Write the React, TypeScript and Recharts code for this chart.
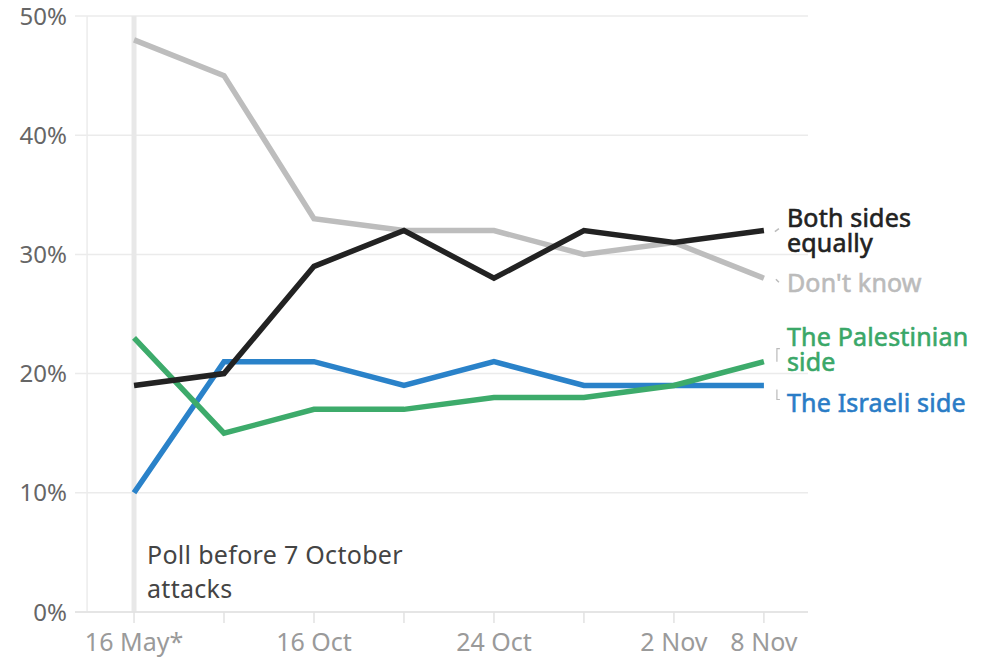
import React from "react";
import {
  LineChart,
  Line,
  XAxis,
  YAxis,
  CartesianGrid,
  ReferenceLine,
} from "recharts";

// poll index 0 = 16 May (pre-7 Oct), then the weekly polls
const tickLabels = ["16 May*", "", "16 Oct", "", "24 Oct", "", "2 Nov", "8 Nov"];
const dontKnow = [48, 45, 33, 32, 32, 30, 31, 28];
const bothSides = [19, 20, 29, 32, 28, 32, 31, 32];
const palestinian = [23, 15, 17, 17, 18, 18, 19, 21];
const israeli = [10, 21, 21, 19, 21, 19, 19, 19];
const yTicks = [0, 10, 20, 30, 40, 50];

const data = tickLabels.map((label, i) => ({
  idx: i,
  label,
  dontKnow: dontKnow[i],
  bothSides: bothSides[i],
  palestinian: palestinian[i],
  israeli: israeli[i],
}));

const FONT = "'Noto Sans', 'Open Sans', sans-serif";
const LAST = tickLabels.length - 1;
const LW = 5.5;

// end-of-line labels: lines of text, colour, baseline offset from the point, leader mark
const endLabel =
  (lines: string[], color: string, dy: number, mark: string) => (props: any) => {
    const { x, y, index } = props;
    if (index !== LAST) return null;
    const tx = x + 23;
    return (
      <g>
        {mark === "slashUp" && (
          <line x1={x + 11} y1={y + 1} x2={x + 15} y2={y - 2} stroke="#bbb" strokeWidth={1.5} />
        )}
        {mark === "slashDown" && (
          <line x1={x + 12} y1={y + 1} x2={x + 15} y2={y + 4} stroke="#bbb" strokeWidth={1.5} />
        )}
        {mark === "bracketUp" && (
          <path d={`M ${x + 16} ${y - 13} L ${x + 13} ${y - 13} L ${x + 13} ${y}`} fill="none" stroke="#bbb" strokeWidth={1.2} />
        )}
        {mark === "bracketDown" && (
          <path d={`M ${x + 13} ${y + 4} L ${x + 13} ${y + 14} L ${x + 16} ${y + 14}`} fill="none" stroke="#bbb" strokeWidth={1.2} />
        )}
        <text
          x={tx}
          y={y + dy}
          fill={color}
          stroke={color}
          strokeWidth={0.6}
          fontSize={25}
          letterSpacing={0.2}
          fontFamily={FONT}
        >
          {lines.map((l, i) => (
            <tspan key={i} x={tx} dy={i === 0 ? 0 : 25}>
              {l}
            </tspan>
          ))}
        </text>
      </g>
    );
  };

const PollNote = (props: any) => {
  const { viewBox } = props;
  const x = viewBox.x + 13;
  const yb = viewBox.y + viewBox.height;
  return (
    <text x={x} y={yb - 48} fill="#444" fontSize={25} letterSpacing={0.3} fontFamily={FONT}>
      <tspan x={x}>Poll before 7 October</tspan>
      <tspan x={x} dy={34}>attacks</tspan>
    </text>
  );
};

export default function App() {
  return (
    <div style={{ position: "absolute", left: 0, top: 0, background: "#fff" }}>
      <LineChart
        width={982}
        height={657}
        data={data}
        margin={{ top: 16, right: 174, bottom: 0, left: 0 }}
      >
        <CartesianGrid vertical={false} stroke="#ebebeb" strokeWidth={1.5} />
        <XAxis
          dataKey="idx"
          type="number"
          domain={[-0.656, 7.49]}
          ticks={data.map((d) => d.idx)}
          tickFormatter={(v: number) => tickLabels[v]}
          interval={0}
          height={45}
          tickSize={11}
          tickMargin={10}
          axisLine={{ stroke: "#e2e2e2", strokeWidth: 1.5 }}
          tickLine={{ stroke: "#e2e2e2", strokeWidth: 1.5 }}
          tick={{ fill: "#9a9a9a", fontSize: 25, fontFamily: FONT }}
        />
        <YAxis
          domain={[0, 50]}
          ticks={yTicks}
          width={75}
          tickSize={0}
          tickMargin={8}
          axisLine={false}
          tickLine={false}
          tickFormatter={(v: number) => `${v}%`}
          tick={{ fill: "#666", fontSize: 24, fontFamily: FONT }}
        />
        <ReferenceLine x={-0.522} stroke="#ececec" strokeWidth={1.5} />
        <ReferenceLine x={0} stroke="#e8e8e8" strokeWidth={5} label={<PollNote />} />
        <Line
          dataKey="dontKnow"
          stroke="#bdbdbd"
          strokeWidth={LW}
          dot={false}
          isAnimationActive={false}
          strokeLinejoin="miter"
          label={endLabel(["Don't know"], "#bbbbbb", 14, "slashDown")}
        />
        <Line
          dataKey="israeli"
          stroke="#2a82c9"
          strokeWidth={LW}
          dot={false}
          isAnimationActive={false}
          strokeLinejoin="miter"
          label={endLabel(["The Israeli side"], "#2a7cc6", 26, "bracketDown")}
        />
        <Line
          dataKey="palestinian"
          stroke="#3dab6b"
          strokeWidth={LW}
          dot={false}
          isAnimationActive={false}
          strokeLinejoin="miter"
          label={endLabel(["The Palestinian", "side"], "#3aa768", -16, "bracketUp")}
        />
        <Line
          dataKey="bothSides"
          stroke="#222222"
          strokeWidth={LW}
          dot={false}
          isAnimationActive={false}
          strokeLinejoin="miter"
          label={endLabel(["Both sides", "equally"], "#222222", -4, "slashUp")}
        />
      </LineChart>
    </div>
  );
}
